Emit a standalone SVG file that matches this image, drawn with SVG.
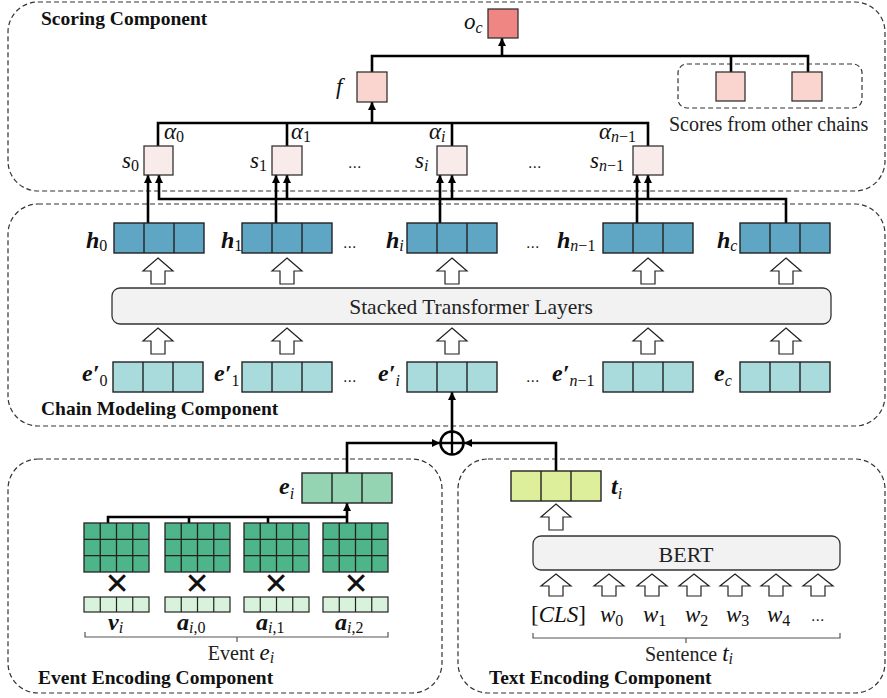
<svg xmlns="http://www.w3.org/2000/svg" xmlns:xlink="http://www.w3.org/1999/xlink" width="887" height="698" viewBox="0 0 887 698">
<style>
.cont{fill:none;stroke:#333;stroke-width:1.2;stroke-dasharray:5,3}
.title{font-family:"Liberation Serif",serif;font-weight:bold;font-size:19.5px;fill:#111}
.txt{font-family:"Liberation Serif",serif;font-size:20px;fill:#222}
.big{font-family:"Liberation Serif",serif;font-size:21.5px;fill:#222}
.m{font-family:"Liberation Serif",serif;font-style:italic;font-size:23px;fill:#111}
.vb{font-family:"Liberation Serif",serif;font-style:italic;font-weight:bold;font-size:24px;fill:#111}
.sub{font-size:16px;font-style:normal;font-weight:normal}
.subi{font-size:16px;font-style:italic;font-weight:normal}
.up{font-style:normal}
.box{stroke:#333;stroke-width:1.3}
.conn{fill:none;stroke:#000;stroke-width:2.6}
.arr{fill:none;stroke:#000;stroke-width:2.6;marker-end:url(#ah)}
.blk{fill:#fff;stroke:#222;stroke-width:1.2}
.layer{fill:#f2f2f2;stroke:#333;stroke-width:1.3}
.brace{fill:none;stroke:#555;stroke-width:1.2}
.dots{font-family:"Liberation Sans",sans-serif;font-size:16px;fill:#222}
.x{font-family:"DejaVu Sans",sans-serif;font-size:30px;fill:#111;text-anchor:middle}
</style>
<defs>
<marker id="ah" markerUnits="userSpaceOnUse" markerWidth="9" markerHeight="9" refX="8" refY="4" orient="auto">
<path d="M0,0 L8,4 L0,8 z" fill="#000"/>
</marker>
<symbol id="vec3" overflow="visible">
<rect x="0" y="0" width="90" height="30" stroke="#222" stroke-width="1.4"/>
<path d="M30,0 V30 M60,0 V30" stroke="#222" stroke-width="1.4"/>
</symbol>
<symbol id="grid" overflow="visible">
<rect x="0" y="0" width="65" height="49" stroke="#222" stroke-width="1.3"/>
<path d="M16.25,0 V49 M32.5,0 V49 M48.75,0 V49 M0,16.33 H65 M0,32.67 H65" stroke="#222" stroke-width="1.3"/>
</symbol>
<symbol id="vec4" overflow="visible">
<rect x="0" y="0" width="65" height="15" stroke="#222" stroke-width="1.2"/>
<path d="M16.25,0 V15 M32.5,0 V15 M48.75,0 V15" stroke="#222" stroke-width="1.2"/>
</symbol>
<path id="barrow" d="M0,0 L15,13 L7,13 L7,26 L-7,26 L-7,13 L-15,13 Z"/>
<path id="barrow2" d="M0,0 L15,12 L7,12 L7,22 L-7,22 L-7,12 L-15,12 Z"/>
</defs>

<g id="containers">
<rect id="scoring-container" class="cont" x="8" y="2" width="877" height="189" rx="30"/>
<rect id="chain-container" class="cont" x="8" y="204" width="877" height="222" rx="30"/>
<rect id="event-container" class="cont" x="8" y="459" width="434" height="234" rx="30"/>
<rect id="text-container" class="cont" x="458" y="459" width="427" height="234" rx="30"/>
<rect id="others-container" class="cont" x="678" y="64" width="184" height="44" rx="9"/>
<text class="title" x="41" y="25">Scoring Component</text>
<text class="title" x="41" y="415">Chain Modeling Component</text>
<text class="title" x="38" y="684">Event Encoding Component</text>
<text class="title" x="489" y="684">Text Encoding Component</text>
</g>

<g id="connectors">
<path class="conn" d="M372,72 V56 H808 V72 M731,56 V72"/>
<path class="arr" d="M502,56 V38"/>
<path class="conn" d="M158,146 V123 H648 V146 M287,123 V146 M452,123 V146"/>
<path class="arr" d="M372,123 V102"/>
<path class="arr" d="M148,223 V175"/>
<path class="arr" d="M276,223 V175"/>
<path class="arr" d="M440,223 V175"/>
<path class="arr" d="M637,223 V175"/>
<path class="arr" d="M786,223 V199 H159 V175"/>
<path class="arr" d="M287,199 V175"/>
<path class="arr" d="M452,199 V175"/>
<path class="arr" d="M648,199 V175"/>
<path class="arr" d="M347,473 V443 H440"/>
<path class="arr" d="M556,471 V443 H464"/>
<path class="arr" d="M452,431 V392"/>
<path class="conn" d="M108,523 V517 H347 M189,517 V523 M268,517 V523"/>
<path class="arr" d="M347,523 V503"/>
</g>

<g id="oc">
<rect class="box" x="488" y="9" width="30" height="29" fill="#f08683"/>
<text class="m" x="464" y="29">o<tspan class="subi" dy="4">c</tspan></text>
</g>
<g id="f">
<rect class="box" x="357" y="72" width="30" height="30" fill="#fad4ce"/>
<text class="m" x="336" y="94">f</text>
</g>
<g id="other-chains">
<rect class="box" x="716" y="72" width="29" height="29" fill="#fad4ce"/>
<rect class="box" x="792" y="72" width="30" height="29" fill="#fad4ce"/>
<text class="txt" x="669" y="131">Scores from other chains</text>
</g>

<g id="s0">
<rect class="box" x="144" y="146" width="29" height="29" fill="#f8ebe9"/>
<text class="m" x="122" y="168">s<tspan class="sub" dy="3">0</tspan></text>
<text class="m" x="164" y="139">α<tspan class="sub" dy="3">0</tspan></text>
</g>
<g id="s1">
<rect class="box" x="272" y="146" width="30" height="29" fill="#f8ebe9"/>
<text class="m" x="250" y="168">s<tspan class="sub" dy="3">1</tspan></text>
<text class="m" x="291" y="139">α<tspan class="sub" dy="3">1</tspan></text>
</g>
<g id="si">
<rect class="box" x="437" y="146" width="30" height="29" fill="#f8ebe9"/>
<text class="m" x="415" y="168">s<tspan class="subi" dy="3">i</tspan></text>
<text class="m" x="429" y="139">α<tspan class="subi" dy="3">i</tspan></text>
</g>
<g id="sn1">
<rect class="box" x="633" y="146" width="30" height="29" fill="#f8ebe9"/>
<text class="m" x="590" y="168">s<tspan class="subi" dy="3">n</tspan><tspan class="sub">−1</tspan></text>
<text class="m" x="599" y="139">α<tspan class="subi" dy="3">n</tspan><tspan class="sub">−1</tspan></text>
</g>
<text class="dots" x="348" y="168">...</text>
<text class="dots" x="528" y="168">...</text>

<g id="h0"><use href="#vec3" x="114" y="223" fill="#5fa5c4"/><text class="vb" x="86" y="248">h<tspan class="sub" dy="3">0</tspan></text></g>
<g id="h1"><use href="#vec3" x="242" y="223" fill="#5fa5c4"/><text class="vb" x="221" y="248">h<tspan class="sub" dy="3">1</tspan></text></g>
<g id="hi"><use href="#vec3" x="407" y="223" fill="#5fa5c4"/><text class="vb" x="386" y="248">h<tspan class="subi" dy="3">i</tspan></text></g>
<g id="hn1"><use href="#vec3" x="603" y="223" fill="#5fa5c4"/><text class="vb" x="557" y="248">h<tspan class="subi" dy="3">n</tspan><tspan class="sub">−1</tspan></text></g>
<g id="hc"><use href="#vec3" x="740" y="223" fill="#5fa5c4"/><text class="vb" x="717" y="248">h<tspan class="subi" dy="3">c</tspan></text></g>
<text class="dots" x="343" y="248">...</text>
<text class="dots" x="526" y="248">...</text>

<g id="up-arrows-top">
<use href="#barrow" class="blk" x="158" y="258"/>
<use href="#barrow" class="blk" x="287" y="258"/>
<use href="#barrow" class="blk" x="452" y="258"/>
<use href="#barrow" class="blk" x="648" y="258"/>
<use href="#barrow" class="blk" x="786" y="258"/>
</g>
<g id="transformer">
<rect class="layer" x="112" y="288" width="719" height="36" rx="8"/>
<text class="big" x="471" y="314" text-anchor="middle">Stacked Transformer Layers</text>
</g>
<g id="up-arrows-bottom">
<use href="#barrow" class="blk" x="158" y="328"/>
<use href="#barrow" class="blk" x="287" y="328"/>
<use href="#barrow" class="blk" x="452" y="328"/>
<use href="#barrow" class="blk" x="648" y="328"/>
<use href="#barrow" class="blk" x="786" y="328"/>
</g>

<g id="e0"><use href="#vec3" x="113" y="362" fill="#a9dbdc"/><text class="vb" x="82" y="381">e′<tspan class="sub" dy="5">0</tspan></text></g>
<g id="e1"><use href="#vec3" x="242" y="362" fill="#a9dbdc"/><text class="vb" x="214" y="381">e′<tspan class="sub" dy="5">1</tspan></text></g>
<g id="ei-prime"><use href="#vec3" x="407" y="362" fill="#a9dbdc"/><text class="vb" x="378" y="381">e′<tspan class="subi" dy="5">i</tspan></text></g>
<g id="en1"><use href="#vec3" x="603" y="362" fill="#a9dbdc"/><text class="vb" x="552" y="381">e′<tspan class="subi" dy="5">n</tspan><tspan class="sub">−1</tspan></text></g>
<g id="ec"><use href="#vec3" x="740" y="362" fill="#a9dbdc"/><text class="vb" x="714" y="381">e<tspan class="subi" dy="5">c</tspan></text></g>
<text class="dots" x="343" y="382">...</text>
<text class="dots" x="526" y="382">...</text>

<g id="oplus">
<circle cx="452" cy="443" r="11.5" fill="#fff" stroke="#000" stroke-width="2.5"/>
<path d="M440.5,443 H463.5 M452,431.5 V454.5" stroke="#000" stroke-width="2.3"/>
</g>

<g id="ei"><use href="#vec3" x="302" y="473" fill="#94d4b3"/><text class="vb" x="279" y="494">e<tspan class="subi" dy="5">i</tspan></text></g>
<g id="ti"><use href="#vec3" x="511" y="471" fill="#ddef9a"/><text class="vb" x="611" y="494">t<tspan class="subi" dy="5">i</tspan></text></g>

<g id="event-inputs">
<use href="#grid" x="84" y="523" fill="#4db589"/>
<use href="#grid" x="165" y="523" fill="#4db589"/>
<use href="#grid" x="244" y="523" fill="#4db589"/>
<use href="#grid" x="323" y="523" fill="#4db589"/>
<text class="x" x="117" y="594">✕</text>
<text class="x" x="197" y="594">✕</text>
<text class="x" x="276" y="594">✕</text>
<text class="x" x="356" y="594">✕</text>
<use href="#vec4" x="84" y="597" fill="#d8f2dc"/>
<use href="#vec4" x="165" y="597" fill="#d8f2dc"/>
<use href="#vec4" x="244" y="597" fill="#d8f2dc"/>
<use href="#vec4" x="323" y="597" fill="#d8f2dc"/>
<text class="vb" x="108" y="630">v<tspan class="subi" dy="3">i</tspan></text>
<text class="vb" x="177" y="630">a<tspan class="subi" dy="3">i</tspan><tspan class="sub">,0</tspan></text>
<text class="vb" x="256" y="630">a<tspan class="subi" dy="3">i</tspan><tspan class="sub">,1</tspan></text>
<text class="vb" x="335" y="630">a<tspan class="subi" dy="3">i</tspan><tspan class="sub">,2</tspan></text>
<path class="brace" d="M85,632 V637 H388 V632 M237,637 V642"/>
<text class="txt" x="241" y="660" text-anchor="middle">Event <tspan class="m">e</tspan><tspan class="subi" dy="3">i</tspan></text>
</g>

<g id="bert">
<use href="#barrow" class="blk" x="556" y="504"/>
<rect class="layer" x="533" y="536" width="307" height="34" rx="8"/>
<text class="big" x="686" y="562" text-anchor="middle" style="font-size:22px">BERT</text>
<use href="#barrow2" class="blk" x="556" y="574"/>
<use href="#barrow2" class="blk" x="609" y="574"/>
<use href="#barrow2" class="blk" x="652" y="574"/>
<use href="#barrow2" class="blk" x="694" y="574"/>
<use href="#barrow2" class="blk" x="735" y="574"/>
<use href="#barrow2" class="blk" x="776" y="574"/>
<use href="#barrow2" class="blk" x="818" y="574"/>
<text class="m" x="531" y="622"><tspan class="up">[</tspan>CLS<tspan class="up">]</tspan></text>
<text class="m" x="600" y="622">w<tspan class="sub" dy="4">0</tspan></text>
<text class="m" x="643" y="622">w<tspan class="sub" dy="4">1</tspan></text>
<text class="m" x="685" y="622">w<tspan class="sub" dy="4">2</tspan></text>
<text class="m" x="726" y="622">w<tspan class="sub" dy="4">3</tspan></text>
<text class="m" x="767" y="622">w<tspan class="sub" dy="4">4</tspan></text>
<text class="dots" x="811" y="621">...</text>
<path class="brace" d="M533,633 V638 H840 V633 M686,638 V643"/>
<text class="txt" x="689" y="661" text-anchor="middle">Sentence <tspan class="m">t</tspan><tspan class="subi" dy="3">i</tspan></text>
</g>
</svg>
